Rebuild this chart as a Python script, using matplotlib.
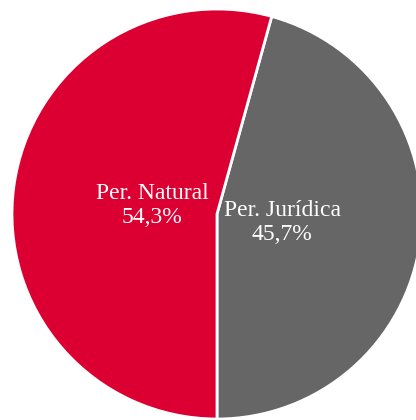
import matplotlib.pyplot as plt

labels = ["Per. Jurídica", "Per. Natural"]
values = [45.7, 54.3]
pct_text = ["45,7%", "54,3%"]
colors = ["#666666", "#DC0032"]

fig = plt.figure(figsize=(4.16, 4.20), dpi=100)
ax = fig.add_axes([12 / 416, 1 / 420, 410 / 416, 410 / 420])

texts = [l + "\n" + p for l, p in zip(labels, pct_text)]
wedges, lbls = ax.pie(values, labels=texts, colors=colors, startangle=-90,
                      counterclock=True, labeldistance=0.32,
                      wedgeprops=dict(edgecolor="white", linewidth=2),
                      textprops=dict(color="white", fontsize=17,
                                     family="Liberation Serif",
                                     ha="center", va="center"))
ax.set_xlim(-1, 1)
ax.set_ylim(-1, 1)

plt.savefig("out.png", dpi=100)
